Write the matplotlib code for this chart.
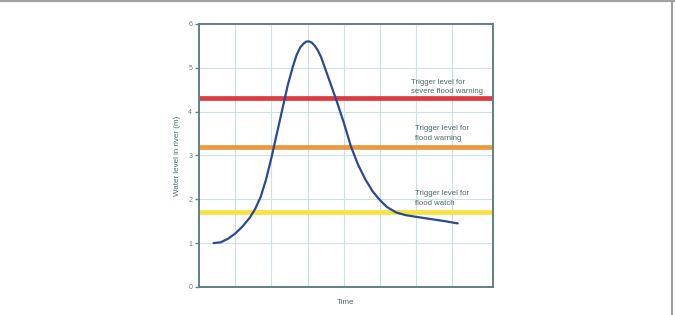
import matplotlib
matplotlib.use('Agg')
import matplotlib.pyplot as plt
from matplotlib.lines import Line2D

# 河川水位曲線 (hydrograph) 與警戒水位
time = [0.4, 0.6, 0.8, 1.0, 1.2, 1.4, 1.55, 1.7, 1.85, 2.0, 2.15, 2.3, 2.45, 2.6,
        2.7, 2.8, 2.9, 2.97, 3.05, 3.12, 3.2, 3.28, 3.37, 3.5, 3.65, 3.8, 4.0,
        4.2, 4.4, 4.6, 4.8, 5.0, 5.2, 5.45, 5.7, 6.0, 6.4, 6.8, 7.15]
water_level = [1.0, 1.02, 1.1, 1.22, 1.38, 1.58, 1.78, 2.05, 2.45, 2.95, 3.5, 4.05,
               4.6, 5.05, 5.3, 5.47, 5.56, 5.6, 5.6, 5.57, 5.5, 5.4, 5.25, 4.95,
               4.6, 4.25, 3.75, 3.2, 2.78, 2.45, 2.18, 1.98, 1.82, 1.7, 1.64, 1.6,
               1.55, 1.5, 1.45]

trigger_levels = [4.3, 3.2, 1.7]
trigger_colors = ['#dd3b3f', '#ea9a3c', '#f4e342']
trigger_labels = ['Trigger level for\nsevere flood warning',
                  'Trigger level for\nflood warning',
                  'Trigger level for\nflood watch']
label_pos = [(5.85, 4.56), (5.97, 3.5), (5.97, 2.02)]

y_ticks = [0, 1, 2, 3, 4, 5, 6]
x_grid = [1, 2, 3, 4, 5, 6, 7]

spine_color = '#5f8286'
text_color = '#4a6a70'

fig = plt.figure(figsize=(6.75, 3.15), dpi=100)
ax = fig.add_axes([0.295, 0.089, 0.435, 0.835])

ax.set_xlim(0, 8.12)
ax.set_ylim(0, 6)
ax.set_xticks(x_grid)
ax.set_yticks(y_ticks)
ax.grid(True, color='#cde0e6', linewidth=0.8)
ax.set_axisbelow(True)

for lvl, c in zip(trigger_levels, trigger_colors):
    ax.axhline(lvl, color=c, linewidth=3.4, zorder=2)

ax.plot(time, water_level, color='#2b4a90', linewidth=1.6, zorder=3,
        solid_capstyle='round', solid_joinstyle='round')

for (tx, ty), lab in zip(label_pos, trigger_labels):
    ax.text(tx, ty, lab, fontsize=5.6, color=text_color, family='Liberation Sans',
            va='center', ha='left', linespacing=1.45)

for s in ax.spines.values():
    s.set_color(spine_color)
    s.set_linewidth(1.4)

ax.tick_params(axis='x', length=0, labelbottom=False)
ax.tick_params(axis='y', length=3, width=1, color=spine_color,
               labelsize=5, labelcolor='#6a7d80', pad=2)
for lab in ax.get_yticklabels():
    lab.set_family('Liberation Sans')

ax.set_ylabel('Water level in river (m)', fontsize=5.8, color=text_color,
              family='Liberation Sans', labelpad=5)
ax.set_xlabel('Time', fontsize=5.8, color=text_color, family='Liberation Sans',
              labelpad=9)

# 外框 (上方與右側的灰色線)
fig.add_artist(Line2D([0, 1], [0.997, 0.997], color='#a0a0a0', linewidth=1.5,
                      transform=fig.transFigure))
fig.add_artist(Line2D([0.996, 0.996], [0, 1], color='#a0a0a0', linewidth=1.5,
                      transform=fig.transFigure))

fig.savefig('out.png', dpi=100)
